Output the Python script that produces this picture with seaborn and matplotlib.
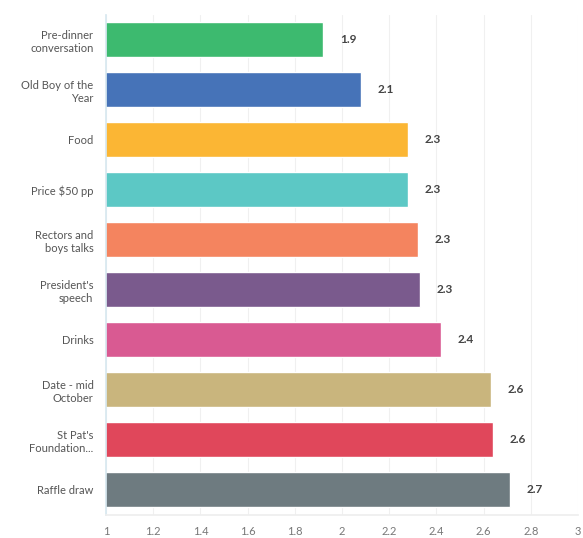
import matplotlib
matplotlib.use("Agg")
import matplotlib.pyplot as plt
import seaborn as sns
import pandas as pd

categories = ["Pre-dinner\nconversation", "Old Boy of the\nYear", "Food", "Price $50 pp",
              "Rectors and\nboys talks", "President's\nspeech", "Drinks", "Date - mid\nOctober",
              "St Pat's\nFoundation...", "Raffle draw"]
values = [1.92, 2.08, 2.28, 2.28, 2.32, 2.33, 2.42, 2.63, 2.64, 2.71]
value_labels = ["1.9", "2.1", "2.3", "2.3", "2.3", "2.3", "2.4", "2.6", "2.6", "2.7"]
colors = ["#3dba6f", "#4673b8", "#fbb634", "#5cc8c5", "#f4845f", "#7a5a8d",
          "#d95a92", "#c9b57d", "#e0475b", "#6e7b80"]
xticks = [1, 1.2, 1.4, 1.6, 1.8, 2, 2.2, 2.4, 2.6, 2.8, 3]
xtick_labels = ["1", "1.2", "1.4", "1.6", "1.8", "2", "2.2", "2.4", "2.6", "2.8", "3"]

sns.set_theme(style="white")
plt.rcParams['font.family'] = ['Lato', 'DejaVu Sans']

df = pd.DataFrame({"cat": categories, "val": values})

fig = plt.figure(figsize=(5.83, 5.38), dpi=100)
ax = fig.add_axes([0.1818, 0.0428, 0.8096, 0.9294])
sns.barplot(data=df, y="cat", x="val", hue="cat", palette=colors, legend=False,
            orient="h", width=0.7, ax=ax, saturation=1)

ax.set_xlim(1, 3)
ax.set_ylim(9.5, -0.5)
ax.set_xticks(xticks)
ax.set_xticklabels(xtick_labels, fontsize=8, color="#777777")
ax.tick_params(axis="y", labelsize=8, colors="#555555", length=0, pad=9)
ax.tick_params(axis="x", length=0, pad=8)
for lbl in ax.get_yticklabels():
    lbl.set_horizontalalignment("right")
ax.set_xlabel("")
ax.set_ylabel("")
ax.grid(axis="x", color="#f0f0f0", linewidth=0.8)
ax.set_axisbelow(True)
for s in ["top", "right"]:
    ax.spines[s].set_visible(False)
ax.spines["left"].set_color("#d8e8f0")
ax.spines["bottom"].set_color("#eeeeee")

for i, (v, t) in enumerate(zip(values, value_labels)):
    ax.annotate(t, xy=(v, i), xytext=(12, 0), textcoords="offset points",
                va="center", ha="left", fontsize=8.5, fontweight="bold", color="#444444")

fig.savefig("out.png", dpi=100)
